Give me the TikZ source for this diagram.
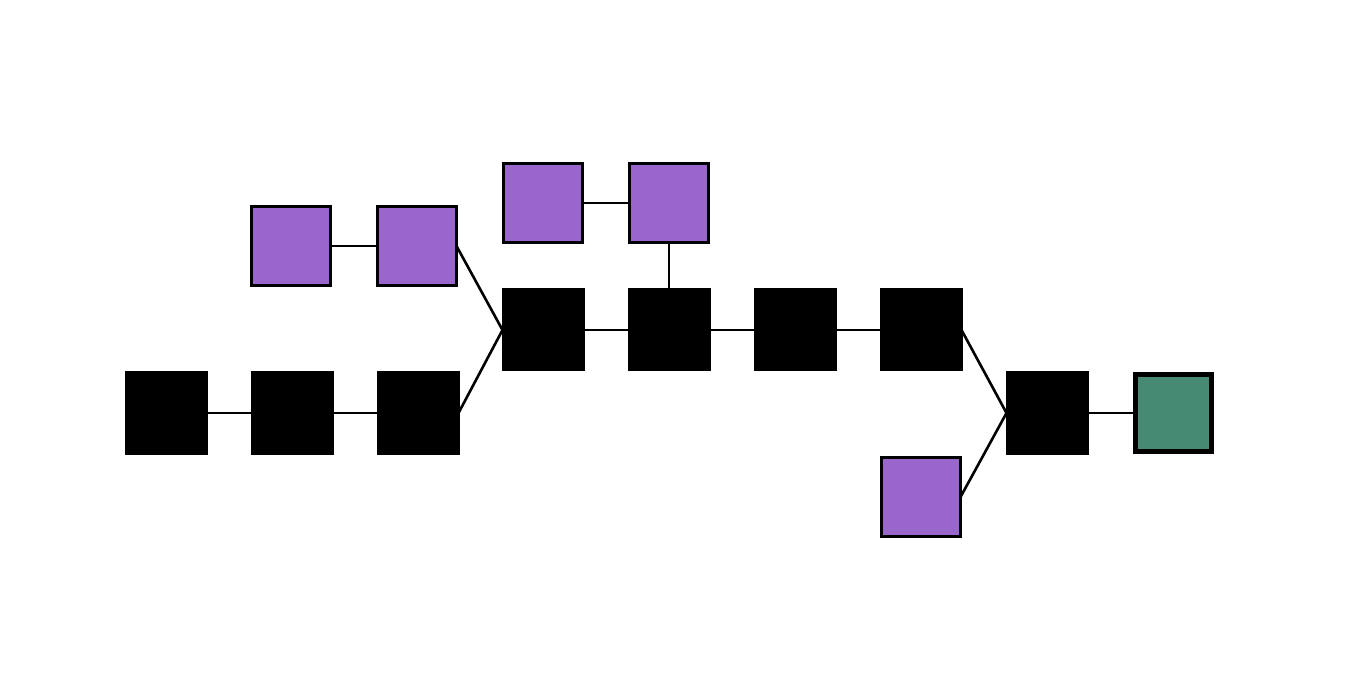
\documentclass[tikz,border=0pt]{standalone}
\definecolor{purp}{HTML}{9966CC}
\definecolor{grn}{HTML}{468A74}
\begin{document}
\begin{tikzpicture}[x=0.5pt,y=-0.5pt,
  blk/.style={draw=black,fill=black,line width=1pt,minimum size=40.5pt,inner sep=0pt,outer sep=0pt},
  pur/.style={draw=black,fill=purp,line width=1.5pt,minimum size=39.5pt,inner sep=0pt,outer sep=0pt},
  grb/.style={draw=black,fill=grn,line width=2.5pt,minimum size=38pt,inner sep=0pt,outer sep=0pt},
  link/.style={line width=1.3pt,black}]
\useasboundingbox[fill=white] (0,0) rectangle (1354,678);
\node[blk] (b1) at (166,413) {};
\node[blk] (b2) at (292,413) {};
\node[blk] (b3) at (418,413) {};
\node[blk] (b4) at (543,330) {};
\node[blk] (b5) at (669,330) {};
\node[blk] (b6) at (795,330) {};
\node[blk] (b7) at (921,330) {};
\node[blk] (b8) at (1047,413) {};
\node[grb] (g) at (1173,413) {};
\node[pur] (p1) at (291,246) {};
\node[pur] (p2) at (417,246) {};
\node[pur] (p3) at (543,203) {};
\node[pur] (p4) at (669,203) {};
\node[pur] (p5) at (921,497) {};
\draw[link] (b1) -- (b2);
\draw[link] (b2) -- (b3);
\draw[link] (b3.east) -- (b4.west);
\draw[link] (p2.east) -- (b4.west);
\draw[link] (p1) -- (p2);
\draw[link] (b4) -- (b5);
\draw[link] (b5) -- (b6);
\draw[link] (b6) -- (b7);
\draw[link] (p3) -- (p4);
\draw[link] (p4.south) -- (b5.north);
\draw[link] (b7.east) -- (b8.west);
\draw[link] (p5.east) -- (b8.west);
\draw[link] (b8) -- (g);
\end{tikzpicture}
\end{document}
